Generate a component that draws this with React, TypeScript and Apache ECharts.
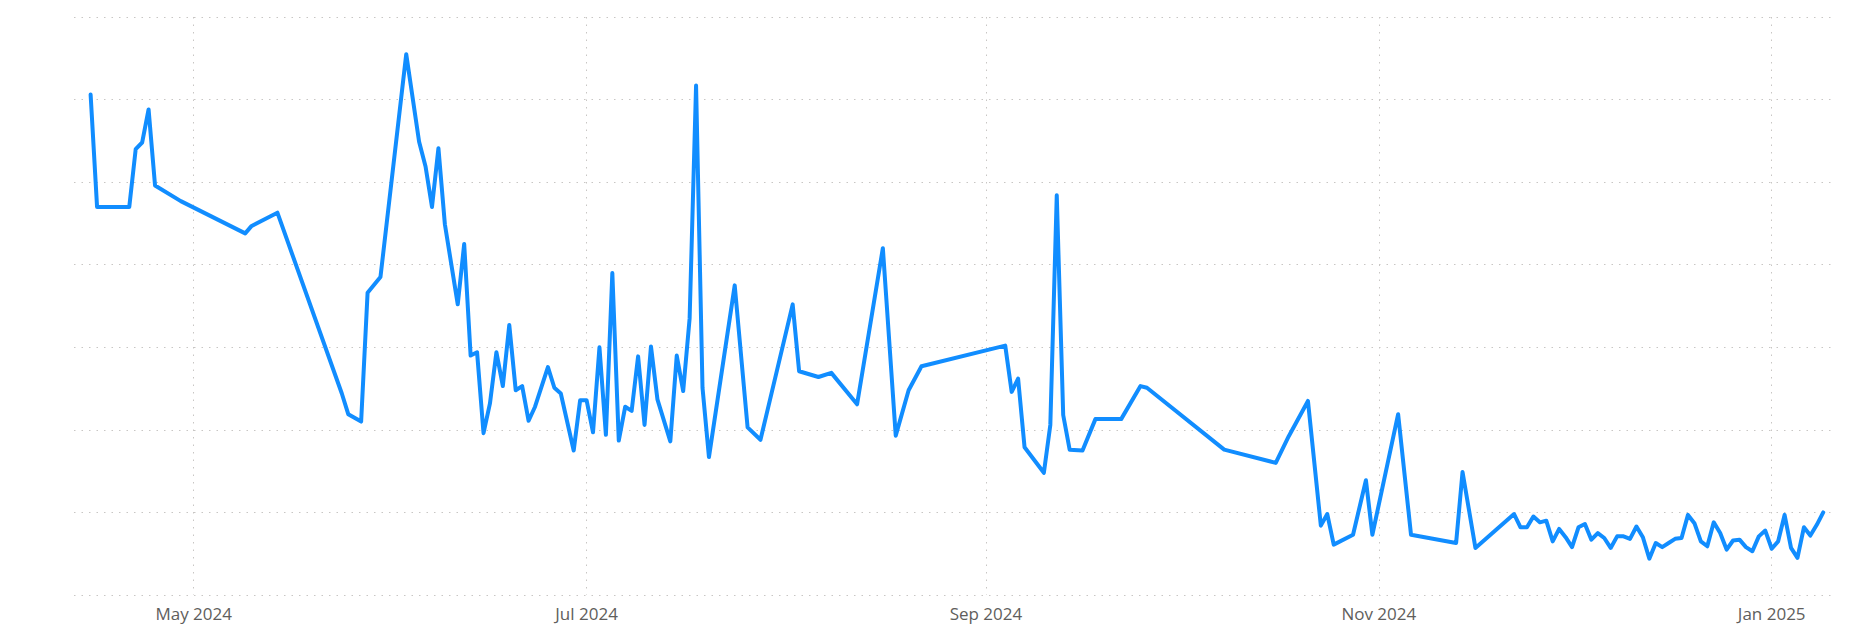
import React, { useEffect, useRef } from "react";
import * as echarts from "echarts";

const dates: string[] = [
  "2024-04-15", "2024-04-16", "2024-04-21", "2024-04-22", "2024-04-23", "2024-04-24", "2024-04-25", "2024-04-29",
  "2024-05-09", "2024-05-10", "2024-05-14", "2024-05-24", "2024-05-25", "2024-05-27", "2024-05-28", "2024-05-30",
  "2024-06-03", "2024-06-05", "2024-06-06", "2024-06-07", "2024-06-08", "2024-06-09", "2024-06-11", "2024-06-12",
  "2024-06-13", "2024-06-14", "2024-06-15", "2024-06-16", "2024-06-17", "2024-06-18", "2024-06-19", "2024-06-20",
  "2024-06-21", "2024-06-22", "2024-06-23", "2024-06-25", "2024-06-26", "2024-06-27", "2024-06-29", "2024-06-30",
  "2024-07-01", "2024-07-02", "2024-07-03", "2024-07-04", "2024-07-05", "2024-07-06", "2024-07-07", "2024-07-08",
  "2024-07-09", "2024-07-10", "2024-07-11", "2024-07-12", "2024-07-14", "2024-07-15", "2024-07-16", "2024-07-17",
  "2024-07-18", "2024-07-19", "2024-07-20", "2024-07-24", "2024-07-26", "2024-07-28", "2024-08-02", "2024-08-03",
  "2024-08-06", "2024-08-08", "2024-08-12", "2024-08-16", "2024-08-18", "2024-08-20", "2024-08-22", "2024-09-04",
  "2024-09-05", "2024-09-06", "2024-09-07", "2024-09-10", "2024-09-11", "2024-09-12", "2024-09-13", "2024-09-14",
  "2024-09-16", "2024-09-18", "2024-09-22", "2024-09-25", "2024-09-26", "2024-10-08", "2024-10-16", "2024-10-18",
  "2024-10-21", "2024-10-23", "2024-10-24", "2024-10-25", "2024-10-28", "2024-10-30", "2024-10-31", "2024-11-04",
  "2024-11-06", "2024-11-13", "2024-11-14", "2024-11-16", "2024-11-22", "2024-11-23", "2024-11-24", "2024-11-25",
  "2024-11-26", "2024-11-27", "2024-11-28", "2024-11-29", "2024-11-30", "2024-12-01", "2024-12-02", "2024-12-03",
  "2024-12-04", "2024-12-05", "2024-12-06", "2024-12-07", "2024-12-08", "2024-12-09", "2024-12-10", "2024-12-11",
  "2024-12-12", "2024-12-13", "2024-12-14", "2024-12-15", "2024-12-16", "2024-12-17", "2024-12-18", "2024-12-19",
  "2024-12-20", "2024-12-21", "2024-12-22", "2024-12-23", "2024-12-24", "2024-12-25", "2024-12-26", "2024-12-27",
  "2024-12-28", "2024-12-29", "2024-12-30", "2024-12-31", "2025-01-01", "2025-01-02", "2025-01-03", "2025-01-04",
  "2025-01-05", "2025-01-06", "2025-01-07", "2025-01-08", "2025-01-09",
];

const values: number[] = [
  6.06, 4.70, 4.70, 5.40, 5.48, 5.88, 4.96, 4.77,
  4.38, 4.47, 4.63, 2.44, 2.19, 2.10, 3.66, 3.85,
  6.55, 5.49, 5.19, 4.70, 5.41, 4.49, 3.52, 4.25,
  2.90, 2.94, 1.96, 2.32, 2.94, 2.53, 3.27, 2.48,
  2.53, 2.11, 2.28, 2.76, 2.51, 2.44, 1.75, 2.36,
  2.36, 1.97, 3.00, 1.94, 3.90, 1.87, 2.28, 2.23,
  2.89, 2.06, 3.01, 2.37, 1.86, 2.90, 2.47, 3.35,
  6.17, 2.51, 1.67, 3.75, 2.03, 1.88, 3.52, 2.71,
  2.64, 2.69, 2.31, 4.20, 1.93, 2.48, 2.77, 3.02,
  2.46, 2.62, 1.79, 1.48, 2.06, 4.84, 2.18, 1.76,
  1.75, 2.13, 2.13, 2.53, 2.51, 1.76, 1.60, 1.92,
  2.35, 0.84, 0.98, 0.61, 0.73, 1.39, 0.73, 2.19,
  0.73, 0.63, 1.49, 0.57, 0.98, 0.82, 0.82, 0.95,
  0.88, 0.90, 0.65, 0.80, 0.70, 0.58, 0.82, 0.86,
  0.67, 0.75, 0.69, 0.57, 0.71, 0.71, 0.68, 0.83,
  0.70, 0.44, 0.63, 0.58, 0.63, 0.68, 0.69, 0.97,
  0.87, 0.65, 0.59, 0.88, 0.75, 0.55, 0.66, 0.67,
  0.58, 0.53, 0.71, 0.78, 0.56, 0.65, 0.97, 0.57,
  0.45, 0.82, 0.72, 0.85, 1.00,
];

const monthNames: string[] = ["Jan", "Feb", "Mar", "Apr", "May", "Jun", "Jul", "Aug", "Sep", "Oct", "Nov", "Dec"];
const xMin = "2024-04-12 10:05";
const xMax = "2025-01-10 08:40";

export default function App() {
  const ref = useRef<HTMLDivElement>(null);
  useEffect(() => {
    if (!ref.current) return;
    const chart = echarts.init(ref.current, undefined, { renderer: "svg" });
    const dotted = { color: "#c8c6c4", width: 1, type: [1.5, 6] as number[] };
    chart.setOption({
      animation: false,
      grid: { left: 74, right: 26, top: 17, bottom: 35, containLabel: false },
      xAxis: {
        type: "time",
        min: xMin,
        max: xMax,
        splitNumber: 4,
        axisLine: { show: false },
        axisTick: { show: false },
        axisLabel: {
          showMinLabel: false,
          showMaxLabel: false,
          color: "#605e5c",
          fontSize: 17,
          fontFamily: "Open Sans",
          margin: 10,
          formatter: (v: number) => {
            const d = new Date(v);
            return monthNames[d.getMonth()] + " " + d.getFullYear();
          },
        },
        splitLine: { show: true, showMinLine: false, showMaxLine: false, lineStyle: dotted },
      },
      yAxis: {
        type: "value",
        min: 0,
        max: 7,
        interval: 1,
        axisLine: { show: false },
        axisTick: { show: false },
        axisLabel: { show: false },
        splitLine: { show: true, lineStyle: dotted },
      },
      series: [
        {
          type: "line",
          showSymbol: false,
          symbol: "none",
          data: dates.map((d, i) => [d, values[i]]),
          lineStyle: { color: "#118dff", width: 4, join: "round", cap: "round" },
          itemStyle: { color: "#118dff" },
        },
      ],
    });
    return () => chart.dispose();
  }, []);
  return (
    <div
      ref={ref}
      style={{ position: "fixed", left: 0, top: 0, width: 1858, height: 630, background: "#fff" }}
    />
  );
}
